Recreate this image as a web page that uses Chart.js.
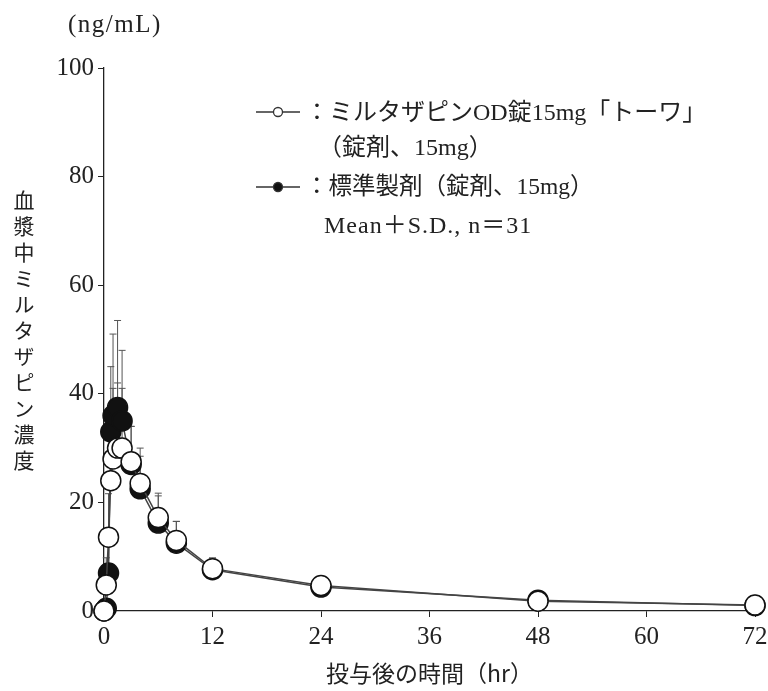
<!DOCTYPE html>
<html><head><meta charset="utf-8">
<script src="https://cdn.jsdelivr.net/npm/chart.js@4"></script>
<style>
body{margin:0;background:#fff;}
#wrap{position:relative;width:768px;height:691px;overflow:hidden;}
canvas{position:absolute;left:0;top:0;}
.t{position:absolute;font-family:"Liberation Serif","Noto Sans CJK JP",serif;color:#222;white-space:nowrap;line-height:1;}
</style></head><body>
<div id="wrap"><canvas id="c" width="768" height="691"></canvas>
<div class="t" style="left:68px;top:11px;font-size:25px;letter-spacing:1.5px;">(ng/mL)</div>
<div class="t" style="left:13px;top:190px;font-size:21px;writing-mode:vertical-rl;letter-spacing:5px;font-family:'Noto Sans CJK JP';">血漿中ミルタザピン濃度</div>
<div class="t" style="left:305px;top:100px;font-size:24px;">：ミルタザピンOD錠15mg「トーワ」</div>
<div class="t" style="left:318px;top:135px;font-size:24px;">（錠剤、15mg）</div>
<div class="t" style="left:305px;top:175px;font-size:23.5px;">：標準製剤（錠剤、15mg）</div>
<div class="t" style="left:324px;top:213px;font-size:24px;letter-spacing:1px;">Mean＋S.D., n＝31</div>
</div>
<script>
const times   = [0, 0.25, 0.5, 0.75, 1, 1.5, 2, 3, 4, 6, 8, 12, 24, 48, 72];
const testMean= [0, 4.8, 13.6, 24, 28, 30, 30, 27.5, 23.5, 17.2, 13, 7.8, 4.7, 1.8, 1.1];
const testSD  = [0, 5, 8, 10, 13, 12, 11, 6.5, 6.5, 4.5, 3.5, 2, 1.5, 0.8, 0.5];
const refMean = [0, 0.5, 7, 33, 36, 37.5, 35, 27, 22.5, 16.2, 12.5, 7.6, 4.4, 2.0, 1.0];
const refSD   = [0, 1, 6, 12, 15, 16, 13, 7, 6, 5, 4, 2, 1.5, 0.8, 0.5];
const xTicks  = [0, 12, 24, 36, 48, 60, 72];
const yTicks  = [0, 20, 40, 60, 80, 100];
const labels  = ['ミルタザピンOD錠15mg「トーワ」（錠剤、15mg）', '標準製剤（錠剤、15mg）'];

const toPts = m => times.map((t,i)=>({x:t,y:m[i]}));

const errorBars = {
  id:'errorBars',
  beforeDatasetsDraw(chart){
    const ctx=chart.ctx, xs=chart.scales.x, ys=chart.scales.y;
    ctx.save(); ctx.strokeStyle='#555'; ctx.lineWidth=1;
    chart.data.datasets.forEach(ds=>{
      ds.data.forEach((p,i)=>{
        const sd=ds.sd[i]; if(!sd) return;
        const x=xs.getPixelForValue(p.x), y0=ys.getPixelForValue(p.y), y1=ys.getPixelForValue(p.y+sd);
        ctx.beginPath(); ctx.moveTo(x,y0); ctx.lineTo(x,y1);
        ctx.moveTo(x-3.5,y1); ctx.lineTo(x+3.5,y1); ctx.stroke();
      });
    });
    ctx.restore();
  }
};
const legendSymbols = {
  id:'legendSymbols',
  afterDraw(chart){
    const ctx=chart.ctx;
    ctx.save(); ctx.strokeStyle='#333'; ctx.lineWidth=1.3;
    [[112,'#fff'],[187,'#111']].forEach(([y,f])=>{
      ctx.beginPath(); ctx.moveTo(256,y); ctx.lineTo(300,y); ctx.stroke();
      ctx.beginPath(); ctx.arc(278,y,4.5,0,Math.PI*2); ctx.fillStyle=f; ctx.fill(); ctx.stroke();
    });
    ctx.restore();
  }
};

new Chart(document.getElementById('c'), {
  type:'line',
  data:{datasets:[
    {label:labels[0], data:toPts(testMean), sd:testSD, borderColor:'#444', borderWidth:1.5,
     pointRadius:10, pointBackgroundColor:'#fff', pointBorderColor:'#111', pointBorderWidth:1.5, clip:false},
    {label:labels[1], data:toPts(refMean), sd:refSD, borderColor:'#444', borderWidth:1.5,
     pointRadius:10, pointBackgroundColor:'#111', pointBorderColor:'#111', pointBorderWidth:1.5, clip:false}
  ]},
  options:{
    responsive:false, animation:false,
    layout:{padding:{left:0,right:13,top:68,bottom:0}},
    plugins:{legend:{display:false}, tooltip:{enabled:false}},
    scales:{
      x:{type:'linear', min:0, max:72,
        afterBuildTicks(s){ s.ticks = xTicks.map(v=>({value:v})); },
        afterFit(s){ s.height=80; s.paddingRight=0; s.paddingLeft=0; },
        border:{display:true,color:'#222',width:1.3},
        grid:{display:true,drawOnChartArea:false,drawTicks:true,tickLength:6,color:'#222',lineWidth:1},
        ticks:{padding:5,color:'#222',font:{family:'Liberation Serif',size:25},maxRotation:0},
        title:{display:true,text:'投与後の時間（hr）',color:'#222',font:{family:'Noto Sans CJK JP',size:23},padding:{top:0,bottom:4}}
      },
      y:{type:'linear', min:0, max:100,
        afterBuildTicks(s){ s.ticks = yTicks.map(v=>({value:v})); },
        afterFit(s){ s.width=104; s.paddingTop=0; s.paddingBottom=0; },
        border:{display:true,color:'#222',width:1.3},
        grid:{display:true,drawOnChartArea:false,drawTicks:true,tickLength:6,color:'#222',lineWidth:1},
        ticks:{padding:4,color:'#222',font:{family:'Liberation Serif',size:25}}
      }
    }
  },
  plugins:[errorBars, legendSymbols]
});
</script>
</body></html>
